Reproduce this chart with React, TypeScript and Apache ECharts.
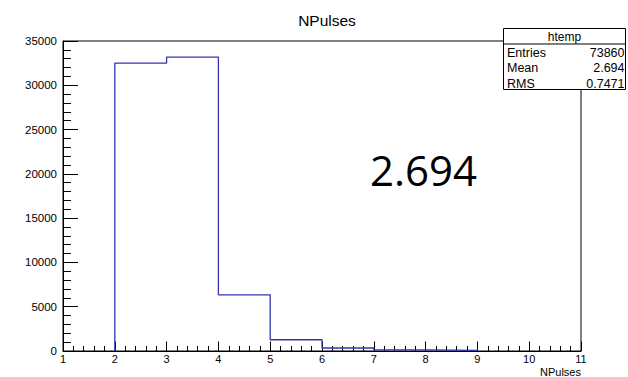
import React, { useEffect, useRef } from "react";
import * as echarts from "echarts";

const binLowEdges = [2, 3, 4, 5, 6, 7, 8];
const binCounts = [32500, 33180, 6340, 1270, 340, 130, 80];
const binWidth = 1;
const xTickMin = 1;
const xTickMax = 11;
const yTickMax = 35000;
const yTickStep = 5000;
const statsTitle = "htemp";
const statsLabels = ["Entries", "Mean", "RMS"];
const statsValues = ["73860", "2.694", "0.7471"];
const chartTitle = "NPulses";
const xAxisTitle = "NPulses";
const bigNote = "2.694";

export default function App() {
  const ref = useRef<HTMLDivElement>(null);
  useEffect(() => {
    document.body.style.margin = "0";
    if (!ref.current) return;
    const chart = echarts.init(ref.current, undefined, { renderer: "svg" });

    const stepData: number[][] = [];
    stepData.push([binLowEdges[0], 0]);
    binLowEdges.forEach((e, i) => stepData.push([e, binCounts[i]]));
    stepData.push([binLowEdges[binLowEdges.length - 1] + binWidth, 0]);

    const font = "Liberation Sans, Arial, Helvetica, sans-serif";
    const boxX = 503.5, boxY = 28.5, boxW = 122, boxH = 61;
    const rowYs = [52.5, 68, 83.5];

    const statsEls: any[] = [
      {
        type: "rect",
        shape: { x: boxX, y: boxY, width: boxW, height: boxH },
        style: { fill: "#fff", stroke: "#000", lineWidth: 1 },
      },
      {
        type: "line",
        shape: { x1: boxX, y1: 44, x2: boxX + boxW, y2: 44 },
        style: { stroke: "#000", lineWidth: 1 },
      },
      {
        type: "text",
        x: boxX + boxW / 2,
        y: 36.5,
        style: { text: statsTitle, font: `12px ${font}`, fill: "#000", align: "center", verticalAlign: "middle" },
      },
    ];
    statsLabels.forEach((l, i) => {
      statsEls.push({
        type: "text",
        x: 507,
        y: rowYs[i],
        style: { text: l, font: `12.5px ${font}`, fill: "#000", align: "left", verticalAlign: "middle" },
      });
      statsEls.push({
        type: "text",
        x: 624.5,
        y: rowYs[i],
        style: { text: statsValues[i], font: `12.5px ${font}`, fill: "#000", align: "right", verticalAlign: "middle" },
      });
    });

    chart.setOption({
      animation: false,
      title: {
        text: chartTitle,
        left: 322,
        top: 7,
        textAlign: "center",
        textStyle: { fontFamily: font, fontSize: 15.5, fontWeight: "normal", color: "#000" },
      },
      grid: {
        left: 63,
        top: 41,
        right: 47,
        bottom: 25,
        show: true,
        borderColor: "#000",
        borderWidth: 1,
        backgroundColor: "transparent",
      },
      xAxis: {
        type: "value",
        min: xTickMin,
        max: xTickMax,
        interval: 1,
        name: xAxisTitle,
        nameLocation: "end",
        nameGap: 0,
        nameTextStyle: {
          fontFamily: font,
          fontSize: 11,
          color: "#000",
          align: "right",
          verticalAlign: "top",
          padding: [15, 0, 0, 0],
        },
        axisLine: { show: true, lineStyle: { color: "#000", width: 1 } },
        axisTick: { show: true, inside: true, length: 9.5, lineStyle: { color: "#000", width: 1 } },
        minorTick: { show: true, splitNumber: 5, length: 5, lineStyle: { color: "#000", width: 1 } },
        splitLine: { show: false },
        minorSplitLine: { show: false },
        axisLabel: { fontFamily: font, fontSize: 11, color: "#000", margin: 2, formatter: (v: number) => String(v) },
      },
      yAxis: {
        type: "value",
        min: 0,
        max: yTickMax,
        interval: yTickStep,
        axisLine: { show: true, lineStyle: { color: "#000", width: 1 } },
        axisTick: { show: true, inside: true, length: 15, lineStyle: { color: "#000", width: 1 } },
        minorTick: { show: true, splitNumber: 5, length: 8, lineStyle: { color: "#000", width: 1 } },
        splitLine: { show: false },
        minorSplitLine: { show: false },
        axisLabel: { fontFamily: font, fontSize: 11.5, color: "#000", margin: 6, formatter: (v: number) => String(v) },
      },
      series: [
        {
          type: "line",
          step: "end",
          data: stepData,
          symbol: "none",
          lineStyle: { color: "#3434b0", width: 1.3 },
          z: 3,
        },
      ],
      graphic: [
        {
          type: "group",
          z: 100,
          children: statsEls,
        },
        {
          type: "text",
          x: 370,
          y: 169,
          z: 100,
          style: {
            text: bigNote,
            font: `42px "Open Sans", sans-serif`,
            fill: "#000",
            align: "left",
            verticalAlign: "middle",
          },
        },
      ],
    });
    return () => chart.dispose();
  }, []);
  return <div ref={ref} style={{ width: 628, height: 377 }} />;
}
